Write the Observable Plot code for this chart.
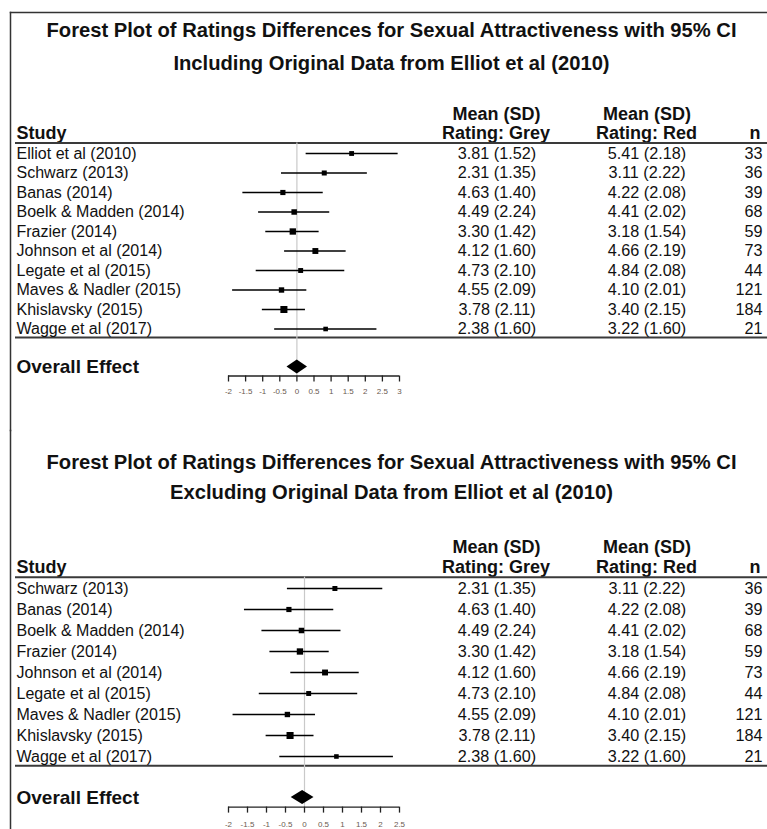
<!DOCTYPE html>
<html>
<head>
<meta charset="utf-8">
<script src="https://cdn.jsdelivr.net/npm/d3@7"></script>
<script src="https://cdn.jsdelivr.net/npm/@observablehq/plot@0.6"></script>
<style>
  body { margin: 0; background: #fff; }
  #chart { width: 767px; }
  #chart svg { display: block; }
</style>
</head>
<body>
<div id="chart"></div>
<script>
// ---------- data ----------
const studies = ["Elliot et al (2010)", "Schwarz (2013)", "Banas (2014)", "Boelk & Madden (2014)", "Frazier (2014)",
  "Johnson et al (2014)", "Legate et al (2015)", "Maves & Nadler (2015)", "Khislavsky (2015)", "Wagge et al (2017)"];
const greyMean = [3.81, 2.31, 4.63, 4.49, 3.30, 4.12, 4.73, 4.55, 3.78, 2.38];
const greySD   = [1.52, 1.35, 1.40, 2.24, 1.42, 1.60, 2.10, 2.09, 2.11, 1.60];
const redMean  = [5.41, 3.11, 4.22, 4.41, 3.18, 4.66, 4.84, 4.10, 3.40, 3.22];
const redSD    = [2.18, 2.22, 2.08, 2.02, 1.54, 2.19, 2.08, 2.01, 2.15, 1.60];
const nObs     = [33, 36, 39, 68, 59, 73, 44, 121, 184, 21];
// 95% CI of the rating difference (Red - Grey)
const ciLow  = [0.27, -0.45, -1.58, -1.12, -0.91, -0.36, -1.19, -1.88, -1.01, -0.65];
const ciHigh = [2.96, 2.06, 0.77, 0.96, 0.65, 1.44, 1.40, 0.29, 0.25, 2.34];
// overall effect [estimate, low, high]
const overallIncl = [0.01, -0.29, 0.31];
const overallExcl = [-0.05, -0.35, 0.25];
// axis tick labels
const ticksIncl = [-2, -1.5, -1, -0.5, 0, 0.5, 1, 1.5, 2, 2.5, 3];
const ticksExcl = [-2, -1.5, -1, -0.5, 0, 0.5, 1, 1.5, 2, 2.5];
const titleLine1 = "Forest Plot of Ratings Differences for Sexual Attractiveness with 95% CI";
const titleIncl = "Including Original Data from Elliot et al (2010)";
const titleExcl = "Excluding Original Data from Elliot et al (2010)";

const fmt = d3.format(".2f");
const allRows = studies.map((s, i) => ({
  study: s,
  grey: `${fmt(greyMean[i])} (${fmt(greySD[i])})`,
  red: `${fmt(redMean[i])} (${fmt(redSD[i])})`,
  n: String(nObs[i]),
  est: +(redMean[i] - greyMean[i]).toFixed(2),
  lo: ciLow[i],
  hi: ciHigh[i],
  w: 1 / (ciHigh[i] - ciLow[i])
}));

const FONT = "'Liberation Sans', Arial, sans-serif";

function panel(cfg) {
  const rows = cfg.rows.map((d, i) => ({...d, row: i}));
  const n = rows.length;
  const sp = cfg.spacing;
  const last = n - 1;
  const underline = -0.54;
  const bottomLine = last + 0.44;
  const overallRow = last + 1.95;
  const axisRow = last + 2.41;
  const tickEnd = axisRow + 6 / sp;
  const labelRow = last + 3.22;
  const head1 = -1.03 - 19.6 / sp;
  const head2 = -1.03;
  const [est, lo, hi] = cfg.overall;
  const dh = 7 / sp;
  const diamond = [
    {x: lo, y1: overallRow, y2: overallRow},
    {x: est, y1: overallRow - dh, y2: overallRow + dh},
    {x: hi, y1: overallRow, y2: overallRow}
  ];
  const ticks = cfg.ticks;
  const titles = [{t: titleLine1, row: cfg.titleRows[0]}, {t: cfg.title2, row: cfg.titleRows[1]}];
  const hdr = {fontSize: 18, fontWeight: "bold", fill: "#111"};

  const marks = [
    Plot.frame({anchor: "left", stroke: "#333", strokeWidth: 1.5}),
    ...(cfg.topBorder ? [Plot.frame({anchor: "top", stroke: "#333", strokeWidth: 1.5})] : []),
    // titles
    Plot.text(titles, {y: "row", text: "t", frameAnchor: "left", dx: 381, textAnchor: "middle",
      fontSize: 21, fontWeight: "bold", fill: "#111", className: "ttl"}),
    // column headers
    Plot.text(["Mean (SD)"], {y: () => head1, text: d => d, frameAnchor: "left", dx: 486, textAnchor: "middle", ...hdr}),
    Plot.text(["Mean (SD)"], {y: () => head1, text: d => d, frameAnchor: "left", dx: 636.5, textAnchor: "middle", ...hdr}),
    Plot.text(["Rating: Grey"], {y: () => head2, text: d => d, frameAnchor: "left", dx: 485.5, textAnchor: "middle", ...hdr}),
    Plot.text(["Rating: Red"], {y: () => head2, text: d => d, frameAnchor: "left", dx: 636, textAnchor: "middle", ...hdr}),
    Plot.text(["Study"], {y: () => head2, text: d => d, frameAnchor: "left", dx: 6, textAnchor: "start", ...hdr}),
    Plot.text(["n"], {y: () => head2, text: d => d, frameAnchor: "right", dx: -7, textAnchor: "end", ...hdr}),
    // header / bottom rules
    Plot.ruleY([underline, bottomLine], {stroke: "#3a3a3a", strokeWidth: 2, insetLeft: 5}),
    // reference line at 0
    Plot.ruleX([0], {y1: underline, y2: axisRow, stroke: "#c9c9c9", strokeWidth: 1.2}),
    // table columns
    Plot.text(rows, {y: "row", text: "study", frameAnchor: "left", dx: 6, textAnchor: "start", fontSize: 16, fill: "#111"}),
    Plot.text(rows, {y: "row", text: "grey", frameAnchor: "left", dx: 486.5, textAnchor: "middle", fontSize: 16.2, fill: "#111"}),
    Plot.text(rows, {y: "row", text: "red", frameAnchor: "left", dx: 636.5, textAnchor: "middle", fontSize: 16.2, fill: "#111"}),
    Plot.text(rows, {y: "row", text: "n", frameAnchor: "right", dx: -5, textAnchor: "end", fontSize: 16.2, fill: "#111"}),
    // CIs and point estimates
    Plot.ruleY(rows, {y: "row", x1: "lo", x2: "hi", stroke: "#000", strokeWidth: 1.4}),
    Plot.dot(rows, {x: "est", y: "row", r: "w", symbol: "square", fill: "#000", stroke: null}),
    // overall
    Plot.text(["Overall Effect"], {y: () => overallRow, text: d => d, frameAnchor: "left", dx: 6, textAnchor: "start", fontSize: 19, fontWeight: "bold", fill: "#111"}),
    Plot.areaY(diamond, {x: "x", y1: "y1", y2: "y2", fill: "#000", curve: "linear"}),
    // axis
    Plot.ruleY([axisRow], {x1: () => ticks[0], x2: () => ticks[ticks.length - 1], stroke: "#222", strokeWidth: 1.3}),
    Plot.ruleX(ticks, {x: d => d, y1: () => axisRow, y2: () => tickEnd, stroke: "#222", strokeWidth: 1.3}),
    Plot.text(ticks, {x: d => d, y: () => labelRow, text: d => String(d), fontSize: 8, fill: "#6a5a50"})
  ];

  return Plot.plot({
    width: 767,
    height: cfg.height,
    marginTop: cfg.marginTop,
    marginLeft: 10,
    marginRight: 0,
    marginBottom: 0,
    style: {fontFamily: FONT, background: "#fff", overflow: "visible"},
    x: {domain: [ticks[0], ticks[ticks.length - 1]], range: [228, 399], axis: null},
    y: {domain: [0, last], range: [cfg.y0, cfg.y1], axis: null},
    r: {type: "sqrt", domain: [0, 0.8], range: [0, 4]},
    marks
  });
}

const p1 = panel({
  rows: allRows, height: 430, marginTop: 12, topBorder: true,
  y0: 153, y1: 328.5, spacing: 19.5,
  ticks: ticksIncl, overall: overallIncl, title2: titleIncl, titleRows: [-6.31, -4.62]
});
const p2 = panel({
  rows: allRows.slice(1), height: 399, marginTop: 0, topBorder: false,
  y0: 158, y1: 326, spacing: 21,
  ticks: ticksExcl, overall: overallExcl, title2: titleExcl, titleRows: [-6.0, -4.57]
});

const chart = document.getElementById("chart");
chart.appendChild(p1);
chart.appendChild(p2);

// condense the titles (narrow bold face in the original)
const ref = p1.querySelector(".ttl text");
const natural = ref.getComputedTextLength();
const factor = 690 / natural;
document.querySelectorAll(".ttl text").forEach(t => {
  const w = t.getComputedTextLength();
  t.setAttribute("textLength", (w * factor).toFixed(1));
  t.setAttribute("lengthAdjust", "spacingAndGlyphs");
});
</script>
</body>
</html>
